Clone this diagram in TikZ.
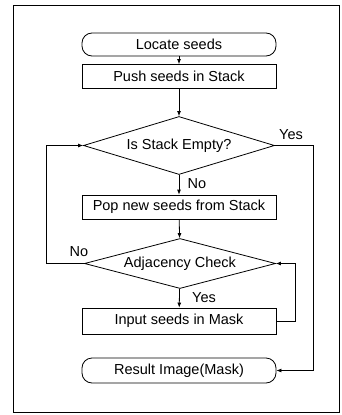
\documentclass[tikz,border=0pt]{standalone}
\usepackage{fontspec}
\setmainfont{Liberation Sans}
\usetikzlibrary{arrows.meta,shapes.geometric,positioning}

\begin{document}
\begin{tikzpicture}[
  x=1pt, y=-1pt,
  font=\fontsize{14.5}{17}\selectfont,
  term/.style={draw, rounded corners=10pt, minimum width=194pt, minimum height=23pt,
               inner sep=0pt, line width=0.8pt},
  proc/.style={draw, minimum width=194pt, minimum height=24pt, inner sep=0pt, line width=0.8pt},
  decide/.style={draw, diamond, aspect=3.8, inner sep=0pt, minimum width=191pt,
                 line width=0.8pt},
  arr/.style={-{Latex[length=5pt,width=4pt]}, line width=0.8pt},
  lbl/.style={inner sep=1pt},
]
\useasboundingbox (0,0) rectangle (341,415);

% outer frame
\draw[line width=1pt] (13,5.5) rectangle (339.5,412.5);

% main column
\node[term] (locate) at (179,44.5) {Locate seeds};
\node[proc] (push) at (179,76.5) {Push seeds in Stack};
\node[decide, minimum height=58pt] (empty) at (179,145.5) {Is Stack Empty?};
\node[proc] (pop) at (179,207) {Pop new seeds from Stack};
\node[decide, minimum height=50pt] (adj) at (180,263.5) {Adjacency Check};
\node[proc, minimum height=26pt] (input) at (179,321) {Input seeds in Mask};
\node[term, minimum height=25pt] (result) at (179,370.5) {Result Image(Mask)};

\draw[arr] (locate) -- (push);
\draw[arr] (push) -- (empty);
\draw[arr] (empty) -- (pop);
\draw[arr] (pop) -- (adj);
\draw[arr] (adj) -- (input);

% loops
\draw[arr] (adj.west) -- ++(-38,0) |- (empty.west);
\draw[arr] (input.east) -- ++(19,0) |- (adj.east);
\draw[arr] (empty.east) -- ++(38,0) |- (result.east);

% branch labels
\node[lbl] (noA) at (197,184) {No};
\node[lbl] (yesA) at (291,135) {Yes};
\node[lbl] (noB) at (79,252) {No};
\node[lbl] (yesB) at (204,298) {Yes};

\end{tikzpicture}
\end{document}
